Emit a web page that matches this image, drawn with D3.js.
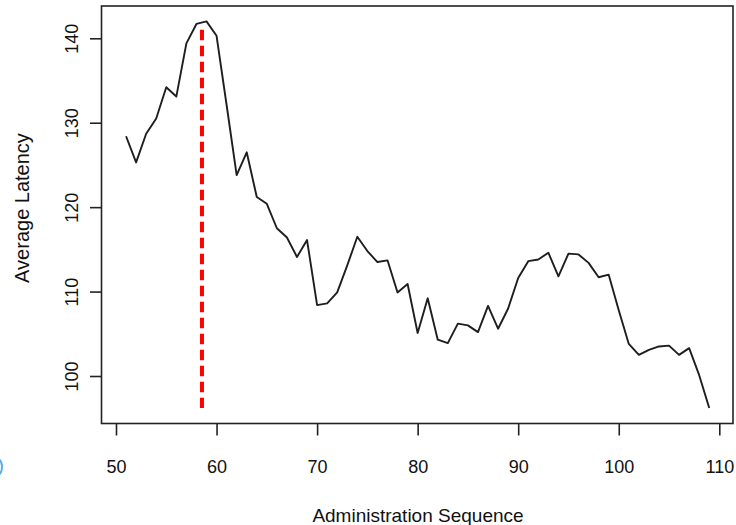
<!DOCTYPE html>
<html>
<head>
<meta charset="utf-8">
<script src="https://cdn.jsdelivr.net/npm/d3@7"></script>
<style>
  html, body { margin: 0; padding: 0; background: #fff; }
  svg { display: block; }
  text { font-family: "Liberation Sans", Arial, Helvetica, sans-serif; fill: #111; }
</style>
</head>
<body>
<svg id="chart" width="736" height="525"></svg>
<script>
// ---- data ----
const sequence = [51,52,53,54,55,56,57,58,59,60,61,62,63,64,65,66,67,68,69,70,
  71,72,73,74,75,76,77,78,79,80,81,82,83,84,85,86,87,88,89,90,
  91,92,93,94,95,96,97,98,99,100,101,102,103,104,105,106,107,108,109];
const latency = [128.4,125.3,128.7,130.5,134.2,133.1,139.4,141.7,142.0,140.3,
  132.1,123.8,126.5,121.2,120.4,117.5,116.4,114.1,116.1,108.4,
  108.6,109.9,113.1,116.5,114.8,113.5,113.7,109.9,110.9,105.1,
  109.2,104.3,103.9,106.2,106.0,105.2,108.3,105.6,108.0,111.6,
  113.6,113.8,114.6,111.8,114.5,114.4,113.4,111.7,112.0,107.8,
  103.8,102.5,103.1,103.5,103.6,102.5,103.3,100.1,96.2];
const xTicks = [50,60,70,80,90,100,110];
const yTicks = [100,110,120,130,140];
const changePoint = [58.55];
const changeSpan = [96.2, 141.0];
const xTitle = "Administration Sequence";
const yTitle = "Average Latency";

// ---- layout ----
const svg = d3.select("#chart");
const frame = {left: 101.5, right: 733, top: 6, bottom: 423.5};
const x = d3.scaleLinear().domain([50, 110]).range([116, 719.3]);
const y = d3.scaleLinear().domain([100, 140]).range([376, 38.3]);

// frame box
svg.append("rect")
  .attr("x", frame.left).attr("y", frame.top)
  .attr("width", frame.right - frame.left).attr("height", frame.bottom - frame.top)
  .attr("fill", "none").attr("stroke", "#222").attr("stroke-width", 1.6);

// x axis
const gx = svg.append("g").attr("transform", `translate(0,${frame.bottom})`)
  .call(d3.axisBottom(x).tickValues(xTicks).tickSize(12).tickPadding(25).tickFormat(d3.format("d")));
gx.select(".domain").remove();
gx.selectAll(".tick line").attr("stroke", "#222").attr("stroke-width", 1.6);
gx.selectAll(".tick text").attr("font-size", 18).attr("fill", "#111")
  .attr("font-family", "'Liberation Sans', Arial, sans-serif");

// y axis
const gy = svg.append("g").attr("transform", `translate(${frame.left},0)`)
  .call(d3.axisLeft(y).tickValues(yTicks).tickSize(11.5).tickFormat(d3.format("d")));
gy.select(".domain").remove();
gy.selectAll(".tick line").attr("stroke", "#222").attr("stroke-width", 1.6);
gy.selectAll(".tick text")
  .attr("font-size", 18).attr("fill", "#111")
  .attr("font-family", "'Liberation Sans', Arial, sans-serif")
  .attr("text-anchor", "middle")
  .attr("x", 0).attr("y", 0).attr("dy", "0")
  .attr("transform", "translate(-24,0) rotate(-90)");

// titles
svg.append("text").attr("x", 418).attr("y", 522).attr("text-anchor", "middle")
  .attr("font-size", 19).text(xTitle);
svg.append("text").attr("transform", "translate(29,208) rotate(-90)")
  .attr("text-anchor", "middle").attr("font-size", 20).text(yTitle);

// series line
const pts = sequence.map((s, i) => [s, latency[i]]);
svg.append("path").datum(pts)
  .attr("fill", "none").attr("stroke", "#1e1e1e").attr("stroke-width", 1.9)
  .attr("stroke-linejoin", "round")
  .attr("d", d3.line().x(d => x(d[0])).y(d => y(d[1])));

// change point dashed line
svg.selectAll("line.cp").data(changePoint).enter().append("line")
  .attr("class", "cp")
  .attr("x1", d => x(d)).attr("x2", d => x(d))
  .attr("y1", y(changeSpan[1])).attr("y2", y(changeSpan[0]))
  .attr("stroke", "#ff0000").attr("stroke-width", 4)
  .attr("stroke-dasharray", "10.5,5.5");

// small blue arc at the left edge (artifact in the source image)
svg.append("path")
  .attr("d", d3.arc()({innerRadius: 10, outerRadius: 12, startAngle: 0.4, endAngle: Math.PI - 0.4}))
  .attr("transform", "translate(-9,467)")
  .attr("fill", "#5aaee6");
</script>
</body>
</html>
